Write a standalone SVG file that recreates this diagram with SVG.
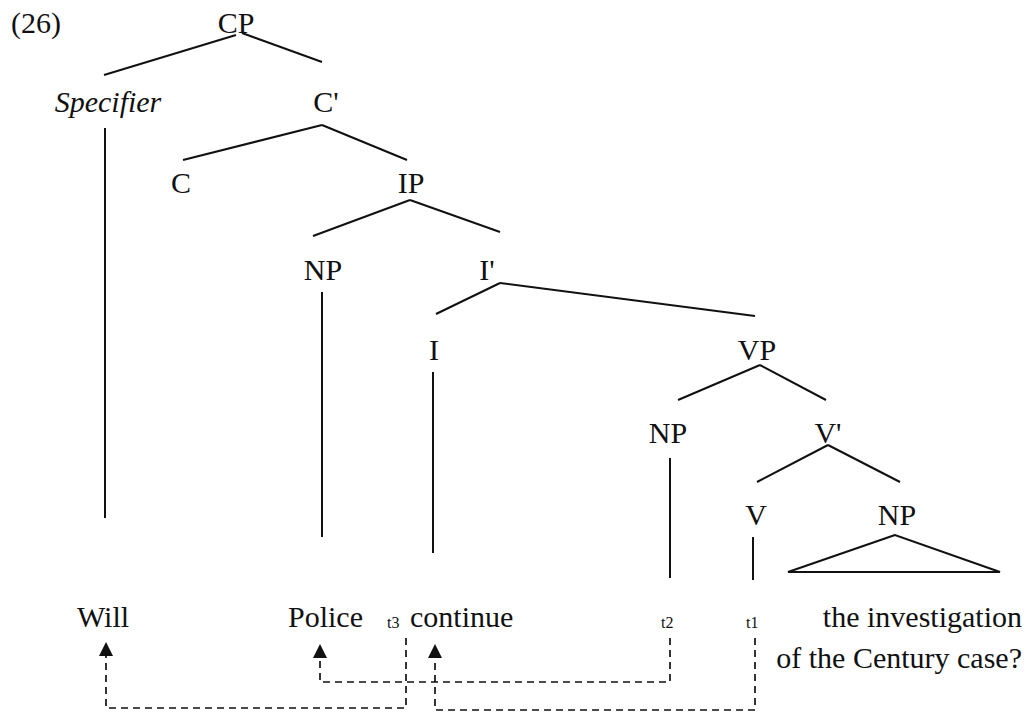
<svg xmlns="http://www.w3.org/2000/svg" width="1027" height="718" viewBox="0 0 1027 718">
<defs>
<style>
text{font-family:"Liberation Serif","Times New Roman",serif;font-size:30px;fill:#111;}
.c{text-anchor:middle;}
.sm{font-size:16px;}
.it{font-style:italic;}
line,polyline{stroke:#111;stroke-width:2;fill:none;}
.t{stroke:#111;stroke-width:2;fill:none;}
.d{stroke-dasharray:7,5;stroke-width:1.7;}
.ah{fill:#111;stroke:none;}
</style>
</defs>
<rect width="1027" height="718" fill="#fff"/>
<text x="11" y="33">(26)</text>
<g id="n-CP"><text class="c" x="236" y="33">CP</text></g>
<g id="n-Spec"><text class="c it" x="108" y="112">Specifier</text></g>
<g id="n-Cbar"><text class="c" x="326" y="112">C'</text></g>
<g id="n-C"><text class="c" x="181" y="193">C</text></g>
<g id="n-IP"><text class="c" x="411" y="193">IP</text></g>
<g id="n-NP1"><text class="c" x="323" y="280">NP</text></g>
<g id="n-Ibar"><text class="c" x="487" y="280">I'</text></g>
<g id="n-I"><text class="c" x="434" y="360">I</text></g>
<g id="n-VP"><text class="c" x="757" y="360">VP</text></g>
<g id="n-NP2"><text class="c" x="668" y="443">NP</text></g>
<g id="n-Vbar"><text class="c" x="828" y="443">V'</text></g>
<g id="n-V"><text class="c" x="756" y="525">V</text></g>
<g id="n-NP3"><text class="c" x="897" y="525">NP</text></g>
<g id="w-Will"><text x="77" y="627">Will</text></g>
<g id="w-Police"><text x="288" y="627">Police</text></g>
<g id="w-t3"><text class="sm" x="387" y="628">t3</text></g>
<g id="w-continue"><text x="410" y="627">continue</text></g>
<g id="w-t2"><text class="sm" x="661" y="628">t2</text></g>
<g id="w-t1"><text class="sm" x="746" y="628">t1</text></g>
<g id="w-obj"><text x="1022" y="627" text-anchor="end">the investigation</text><text x="1022" y="668" text-anchor="end">of the Century case?</text></g>
<g id="connectors">
<line x1="236" y1="35" x2="104" y2="75"/>
<line x1="242" y1="33" x2="322" y2="62"/>
<line x1="322" y1="125" x2="183" y2="160"/>
<line x1="322" y1="125" x2="407" y2="160"/>
<line x1="410" y1="200" x2="313" y2="236"/>
<line x1="410" y1="200" x2="500" y2="232"/>
<line x1="500" y1="283" x2="436" y2="314"/>
<line x1="500" y1="283" x2="755" y2="316"/>
<line x1="760" y1="365" x2="678" y2="400"/>
<line x1="760" y1="365" x2="826" y2="400"/>
<line x1="828" y1="445" x2="757" y2="482"/>
<line x1="828" y1="445" x2="900" y2="482"/>
<line x1="105" y1="128" x2="105" y2="518"/>
<line x1="322" y1="292" x2="322" y2="537"/>
<line x1="433" y1="372" x2="433" y2="553"/>
<line x1="670" y1="458" x2="670" y2="578"/>
<line x1="753" y1="537" x2="753" y2="580"/>
<polygon class="t" points="895,535 788,572 1000,572"/>
<polyline class="d" points="406,638 406,708 106,708 106,656"/>
<polyline class="d" points="670,638 670,682 320,682 320,658"/>
<polyline class="d" points="755,638 755,710 435,710 435,658"/>
<polygon class="ah" points="106,642 113,656 99,656"/>
<polygon class="ah" points="320,644 327,658 313,658"/>
<polygon class="ah" points="435,644 442,658 428,658"/>
</g>
</svg>
